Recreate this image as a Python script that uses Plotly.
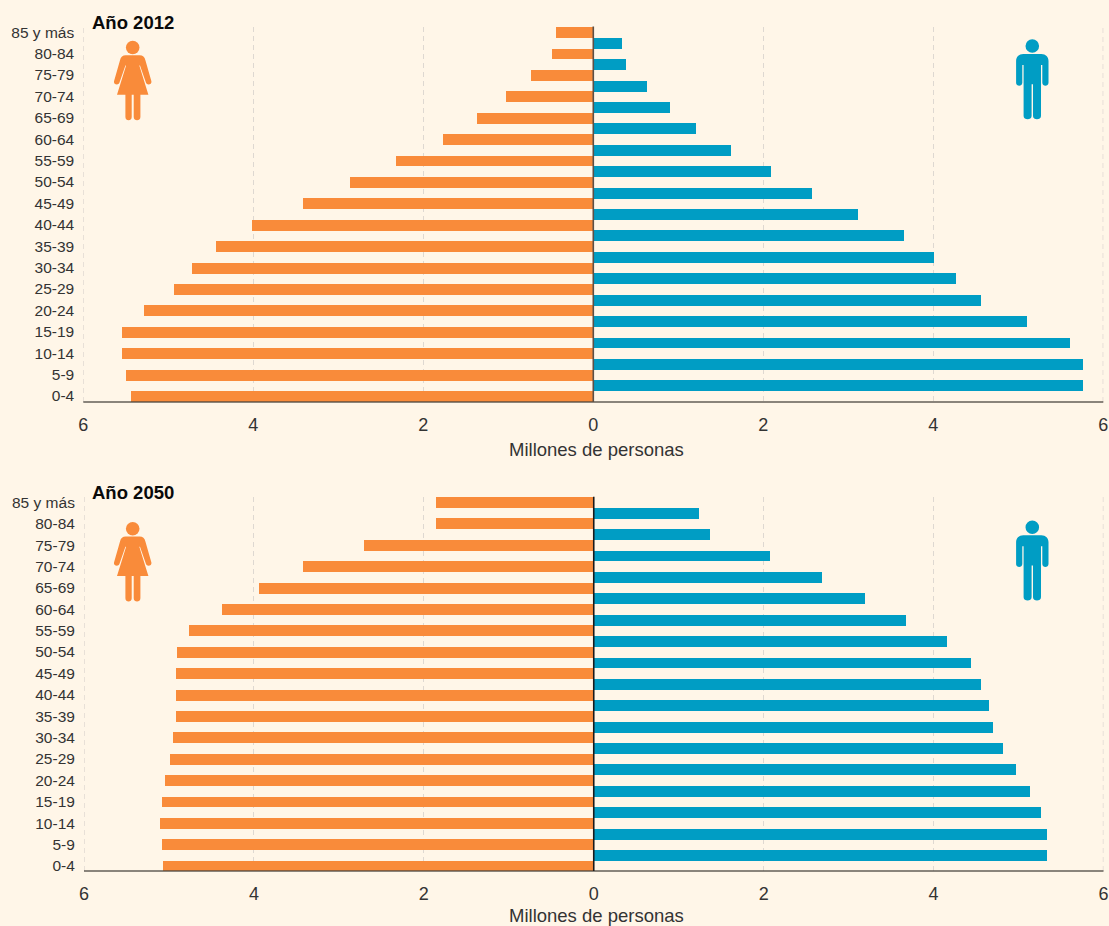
import plotly.graph_objects as go

W, H = 1109, 926
BG = "#FFF6E8"
ORANGE = "#F98B3A"
TEAL = "#009DC4"
TEXT = "#333333"
GRID = "#DED8D1"
FONT = "Liberation Sans"

# Top-to-bottom order as printed
age_groups = ["85 y más", "80-84", "75-79", "70-74", "65-69", "60-64", "55-59", "50-54", "45-49",
              "40-44", "35-39", "30-34", "25-29", "20-24", "15-19", "10-14", "5-9", "0-4"]
women_2012 = [0.43, 0.48, 0.73, 1.02, 1.36, 1.77, 2.32, 2.86, 3.41,
              4.01, 4.44, 4.72, 4.93, 5.28, 5.54, 5.54, 5.50, 5.43]
men_2012 = [0.34, 0.39, 0.63, 0.90, 1.21, 1.62, 2.09, 2.58, 3.12,
            3.66, 4.01, 4.27, 4.56, 5.10, 5.61, 5.77, 5.77, 5.69]
women_2050 = [1.86, 1.86, 2.70, 3.42, 3.94, 4.37, 4.77, 4.90, 4.92,
              4.92, 4.92, 4.95, 4.99, 5.05, 5.08, 5.10, 5.08, 5.07]
men_2050 = [1.24, 1.37, 2.08, 2.69, 3.19, 3.68, 4.16, 4.44, 4.56,
            4.65, 4.70, 4.82, 4.97, 5.13, 5.26, 5.34, 5.34, 5.30]
x_ticks = [-6, -4, -2, 0, 2, 4, 6]
x_tick_labels = ["6", "4", "2", "0", "2", "4", "6"]
x_title = "Millones de personas"
panel_titles = ["Año 2012", "Año 2050"]


def px(x):
    return x / W


def py(y):
    return 1 - y / H


FEMALE_BODY = [("M", -7, 7.7), ("L", 7, 7.7), ("C", 10, 7.7, 12, 9.5, 12.7, 12.7), ("L", 18.7, 33.7),
               ("C", 19.5, 36.8, 14.5, 38.5, 13.3, 35.3), ("L", 7.3, 18), ("L", 6.6, 18), ("L", 15.7, 47.3),
               ("L", 7.7, 47.3), ("L", 7.7, 69.5), ("C", 7.7, 73.8, 1, 73.8, 1, 69.5), ("L", 1, 47.3),
               ("L", -1, 47.3), ("L", -1, 69.5), ("C", -1, 73.8, -7.3, 73.8, -7.3, 69.5), ("L", -7.3, 47.3),
               ("L", -15.7, 47.3), ("L", -6.6, 18), ("L", -7.3, 18), ("L", -13.3, 35.3),
               ("C", -14.5, 38.5, -19.5, 36.8, -18.7, 33.7), ("L", -12.7, 12.7), ("C", -12, 9.5, -10, 7.7, -7, 7.7)]
MALE_BODY = [("M", -9, 8), ("L", 9, 8), ("C", 13.5, 8, 16.2, 11, 16.2, 15), ("L", 16.2, 36.8),
             ("C", 16.2, 40.8, 10, 40.8, 10, 36.8), ("L", 10, 19), ("L", 8.7, 19), ("L", 8.7, 70),
             ("C", 8.7, 74.3, 0.7, 74.3, 0.7, 70), ("L", 0.7, 38.3), ("L", -0.7, 38.3), ("L", -0.7, 70),
             ("C", -0.7, 74.3, -8.7, 74.3, -8.7, 70), ("L", -8.7, 19), ("L", -10, 19), ("L", -10, 36.8),
             ("C", -10, 40.8, -16.2, 40.8, -16.2, 36.8), ("L", -16.2, 15), ("C", -16.2, 11, -13.5, 8, -9, 8)]


def to_path(cmds, cx, cy):
    out = []
    for c in cmds:
        pts = c[1:]
        coords = " ".join(f"{px(cx + pts[i]):.5f},{py(cy + pts[i + 1]):.5f}" for i in range(0, len(pts), 2))
        out.append(f"{c[0]}{coords}")
    return " ".join(out) + " Z"


def icon(cmds, cx, cy, color, r=6.8):
    return [
        dict(type="path", xref="paper", yref="paper", path=to_path(cmds, cx, cy),
             fillcolor=color, line=dict(width=0), layer="above"),
        dict(type="circle", xref="paper", yref="paper", x0=px(cx - r), x1=px(cx + r),
             y0=py(cy + r), y1=py(cy - r), fillcolor=color, line=dict(width=0), layer="above"),
    ]


fig = go.Figure()
panels = [
    dict(women=women_2012, men=men_2012, top=26.5, bottom=402, yrange=[-0.28, 17.26], ax="", zero="#5c5046",
         x0=83.3, x1=1103.3, title_y=22, head_f=47.5, head_m=46, xlabel_y=449),
    dict(women=women_2050, men=men_2050, top=496.8, bottom=871, yrange=[-0.234, 17.257], ax="2", zero="#1a1a1a",
         x0=84, x1=1103.5, title_y=492.5, head_f=528.8, head_m=527.3, xlabel_y=915),
]
shapes, annotations = [], []
layout_axes = {}
for p, title in zip(panels, panel_titles):
    xa, ya = "x" + p["ax"], "y" + p["ax"]
    fig.add_bar(y=age_groups, x=[-v for v in p["women"]], orientation="h", xaxis=xa, yaxis=ya,
                marker=dict(color=ORANGE, line=dict(width=0)), width=0.51, offset=-0.255, showlegend=False)
    fig.add_bar(y=age_groups, x=p["men"], orientation="h", xaxis=xa, yaxis=ya,
                marker=dict(color=TEAL, line=dict(width=0)), width=0.51, offset=-0.755, showlegend=False)
    layout_axes["xaxis" + p["ax"]] = dict(
        domain=[px(p["x0"]), px(p["x1"])], range=[-6, 6], anchor=ya, tickmode="array",
        tickvals=x_ticks, ticktext=x_tick_labels, tickfont=dict(family=FONT, size=18, color=TEXT),
        showgrid=True, gridcolor=GRID, griddash="5px,4px", gridwidth=1.4, zeroline=False, showline=False,
        ticks="outside", ticklen=6, tickcolor="rgba(0,0,0,0)", automargin=False,
    )
    layout_axes["yaxis" + p["ax"]] = dict(
        domain=[py(p["bottom"]), py(p["top"])], range=p["yrange"], anchor=xa, type="category",
        categoryorder="array", categoryarray=age_groups[::-1], tickfont=dict(family=FONT, size=15.5, color=TEXT),
        showgrid=False, zeroline=False, showline=False, ticks="outside", ticklen=5, tickcolor="rgba(0,0,0,0)",
        automargin=False, dtick=1,
    )
    xd = xa + " domain"
    yd = ya + " domain"
    for edge in (-6, 6):
        shapes.append(dict(type="line", xref=xa, yref=yd, x0=edge, x1=edge, y0=0, y1=1, layer="below",
                           line=dict(color=GRID, width=1.4, dash="5px,4px")))
    shapes.append(dict(type="line", xref=xd, yref=yd, x0=0, x1=1, y0=0, y1=0,
                       line=dict(color="rgba(70,66,60,0.85)", width=1.6), layer="above"))
    shapes.append(dict(type="line", xref=xa, yref=yd, x0=0, x1=0, y0=0, y1=1,
                       line=dict(color=p["zero"], width=1.6), layer="above"))
    annotations.append(dict(text=f"<b>{title}</b>", xref="paper", yref="paper", x=px(89.5), y=py(p["title_y"]),
                            xanchor="left", yanchor="middle", showarrow=False,
                            font=dict(family=FONT, size=18.5, color="#0a0a0a")))
    annotations.append(dict(text=x_title, xref="paper", yref="paper", x=px(596), y=py(p["xlabel_y"]),
                            xanchor="center", yanchor="middle", showarrow=False,
                            font=dict(family=FONT, size=18.5, color=TEXT)))
    shapes += icon(FEMALE_BODY, 132.7, p["head_f"], ORANGE)
    shapes += icon(MALE_BODY, 1032.3, p["head_m"], TEAL)

fig.update_layout(
    width=W, height=H, margin=dict(l=0, r=0, t=0, b=0), paper_bgcolor=BG, plot_bgcolor=BG,
    barmode="overlay", shapes=shapes, annotations=annotations, bargap=0, **layout_axes,
)
fig.write_html("out.html", config=dict(displayModeBar=False),
               post_script="document.body.style.margin='0';document.body.style.background='#FFF6E8';")
